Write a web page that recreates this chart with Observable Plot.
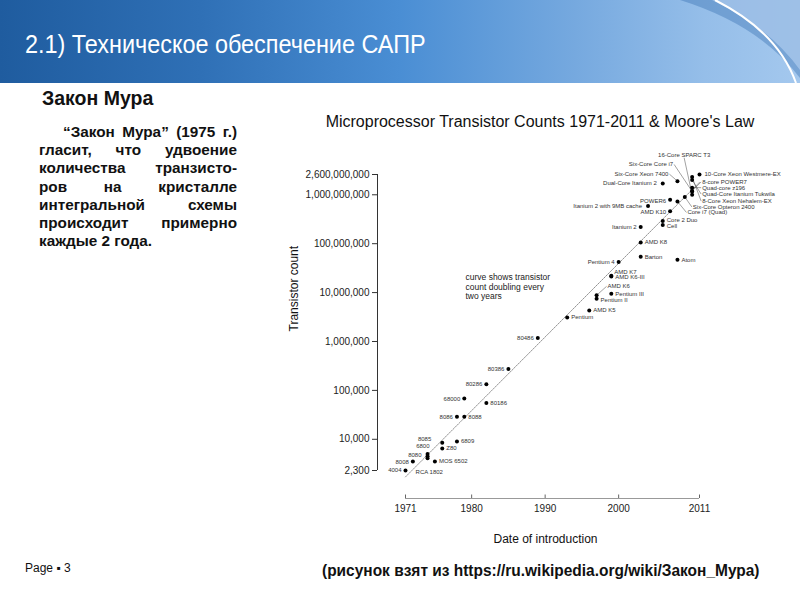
<!DOCTYPE html>
<html><head><meta charset="utf-8">
<script src="https://cdn.jsdelivr.net/npm/d3@7"></script>
<script src="https://cdn.jsdelivr.net/npm/@observablehq/plot@0.6"></script>
<style>
body{margin:0;width:800px;height:600px;position:relative;overflow:hidden;background:#fff;font-family:"Liberation Sans",Arial,sans-serif;}
#header{position:absolute;left:0;top:0;width:800px;height:83px;background:linear-gradient(to right,#1f5c9f 0%,#2f70b6 25%,#4a8ed4 50%,#76a9df 72%,#95bee9 88%,#a4c8ee 100%);}
#header svg{position:absolute;left:0;top:0;}
#htitle{position:absolute;left:25px;top:29px;color:#fff;font-size:26px;white-space:nowrap;transform:scaleX(0.9);transform-origin:0 0;}
#sub{position:absolute;left:42px;top:87px;font-weight:bold;font-size:19.5px;color:#111;}
#para{position:absolute;left:39px;top:123px;width:198px;font-weight:bold;font-size:15.3px;line-height:18.2px;color:#111;}
#para div{text-align:justify;text-align-last:justify;white-space:nowrap;}
#para div.last{text-align-last:left;}
#ctitle{position:absolute;left:280px;width:520px;top:113px;text-align:center;font-size:16px;color:#111;}
#chart{position:absolute;left:280px;top:140px;}
#page{position:absolute;left:25px;top:561px;font-size:12px;color:#111;}
#src{position:absolute;left:322px;top:561px;font-weight:bold;font-size:17px;color:#111;white-space:nowrap;transform:scaleX(0.91);transform-origin:0 0;}
</style></head><body>
<div id="header">
<svg width="800" height="83">
<path d="M680,0 Q760,25 800,78 L800,0 Z" fill="rgba(40,100,170,0.35)"/>
<path d="M712,0 Q770,28 800,70 L800,0 Z" fill="rgba(190,215,245,0.55)"/>
<path d="M715,0 Q778,32 796,83" fill="none" stroke="#fff" stroke-width="2"/>
</svg>
<div id="htitle">2.1) Техническое обеспечение САПР</div>
</div>
<div id="sub">Закон Мура</div>
<div id="para">
<div style="text-indent:24px">“Закон Мура” (1975 г.)</div>
<div>гласит, что удвоение</div>
<div>количества транзисто-</div>
<div>ров на кристалле</div>
<div>интегральной схемы</div>
<div>происходит примерно</div>
<div class="last">каждые 2 года.</div>
</div>
<div id="ctitle">Microprocessor Transistor Counts 1971-2011 &amp; Moore's Law</div>
<div id="chart"></div>
<div id="page">Page ▪ 3</div>
<div id="src">(рисунок взят из https://ru.wikipedia.org/wiki/Закон_Мура)</div>
<script>
const chipNames = ["4004","8008","8080","6800","RCA 1802","MOS 6502","8085","Z80","6809","8086","8088","68000","80186","80286","80386","80486","Pentium","AMD K5","Pentium II","AMD K6","Pentium III","AMD K6-III","AMD K7","Pentium 4","Barton","Atom","AMD K8","Itanium 2","Cell","Core 2 Duo","Itanium 2 with 9MB cache","AMD K10","POWER6","Core i7 (Quad)","Six-Core Opteron 2400","Dual-Core Itanium 2","Six-Core Xeon 7400","Six-Core Core i7","8-core POWER7","Quad-core z196","Quad-Core Itanium Tukwila","8-Core Xeon Nehalem-EX","10-Core Xeon Westmere-EX","16-Core SPARC T3"];
const chipYears = [1971,1972,1974,1974,1974,1975,1976,1976,1978,1978,1979,1979,1982,1982,1985,1989,1993,1996,1997,1997,1999,1999,1999,2000,2003,2008,2003,2003,2006,2006,2004,2007,2007,2008,2009,2006,2008,2010,2010,2010,2010,2010,2011,2010];
const chipCounts = [2300,3500,4500,4100,5000,3510,8500,6500,9000,29000,29000,68000,55000,134000,275000,1180000,3100000,4300000,7500000,8800000,9500000,21300000,22000000,42000000,54300000,47000000,105900000,220000000,241000000,291000000,592000000,463000000,789000000,731000000,904000000,1700000000,1900000000,1170000000,1200000000,1400000000,2000000000,2300000000,2600000000,1000000000];
const yTickValues = [2300,10000,100000,1000000,10000000,100000000,1000000000,2600000000];
const xTickValues = [1971,1980,1990,2000,2011];
const mooreYears = [1971,2011];
const mooreCounts = [1700,1800000000];

// label placement: [dx px, dy px, anchor, leader]
const labelLayout = {
  "4004":[-4,0,"end"],"8008":[-4,0,"end"],"8080":[-6,-1,"end"],"6800":[2,-12,"end"],
  "RCA 1802":[-12,18,"start"],"MOS 6502":[4,0,"start"],"8085":[-11,-4,"end"],"Z80":[4,0,"start"],
  "6809":[4,0,"start"],"8086":[-4,0,"end"],"8088":[4,0,"start"],"68000":[-4,0,"end"],
  "80186":[4,0,"start"],"80286":[-4,0,"end"],"80386":[-4,0,"end"],"80486":[-4,0,"end"],
  "Pentium":[4,0,"start"],"AMD K5":[4,0,"start"],"Pentium II":[4,1,"start"],"AMD K6":[11,-9,"start",1],
  "Pentium III":[4,0,"start"],"AMD K6-III":[4,1,"start"],"AMD K7":[3,-4,"start"],"Pentium 4":[-4,0,"end"],
  "Barton":[4,0,"start"],"Atom":[4,0,"start"],"AMD K8":[4,0,"start"],"Itanium 2":[-4,0,"end"],
  "Cell":[4,1,"start"],"Core 2 Duo":[4,-1,"start"],"Itanium 2 with 9MB cache":[-6,0,"end"],
  "AMD K10":[-4,1,"end"],"POWER6":[-4,1,"end"],"Core i7 (Quad)":[10,11,"start",1],
  "Six-Core Opteron 2400":[8,10,"start",1],"Dual-Core Itanium 2":[-6,0,"end"],
  "Six-Core Xeon 7400":[-9,-7,"end",1],"Six-Core Core i7":[-19,-27,"end",1],
  "8-core POWER7":[10,-9,"start",1],"Quad-core z196":[10,0,"start",1],
  "Quad-Core Itanium Tukwila":[10,14,"start",1],"8-Core Xeon Nehalem-EX":[10,24,"start",1],
  "10-Core Xeon Westmere-EX":[5,0,"start"],"16-Core SPARC T3":[-8,-40,"middle",1]
};

const W = 500, H = 410, mL = 125, mR = 81, mT = 34, mB = 80;
const xDom = [xTickValues[0], xTickValues[xTickValues.length-1]];
const yLo = yTickValues[0], yHi = yTickValues[yTickValues.length-1];
const yDom = [yLo, yHi];
const pxYear = (W - mL - mR) / (xDom[1] - xDom[0]);
const pxDec = (H - mT - mB) / Math.log10(yDom[1] / yDom[0]);
const shiftX = (x, dx) => x + dx / pxYear;
const shiftY = (y, dy) => y * Math.pow(10, -dy / pxDec);

const chips = chipNames.map((name, i) => {
  const [dx, dy, anchor, leader] = labelLayout[name];
  const year = chipYears[i], count = chipCounts[i];
  const endDx = anchor === "end" ? dx + 1 : anchor === "start" ? dx - 1 : dx;
  const endDy = anchor === "middle" ? dy + 3 : dy;
  return {name, year, count, anchor, leader: !!leader,
    lx: shiftX(year, dx), ly: shiftY(count, dy),
    ex: shiftX(year, endDx), ey: shiftY(count, endDy)};
});
const moore = mooreYears.map((y, i) => ({year: y, count: mooreCounts[i]}));

const axisOffset = 28;
const labelStyle = {fontSize: 6, fill: "#333"};
const fmt = d3.format(",");
const chart = Plot.plot({
  width: W, height: H, marginLeft: mL, marginRight: mR, marginTop: mT, marginBottom: mB,
  x: {domain: xDom, axis: null},
  y: {type: "log", domain: yDom, axis: null},
  style: {fontFamily: "'Liberation Sans', Arial, sans-serif", background: "transparent", overflow: "visible", color: "#222"},
  marks: [
    Plot.ruleX([xDom[0]], {y1: yLo, y2: yHi, dx: -axisOffset, stroke: "#333"}),
    Plot.ruleY(yTickValues, {y: d => d, x1: xDom[0], x2: shiftX(xDom[0], -5), dx: -axisOffset, stroke: "#333"}),
    Plot.text(yTickValues, {y: d => d, x: xDom[0], text: d => fmt(d), textAnchor: "end", dx: -axisOffset - 8, fontSize: 10, fill: "#222"}),
    Plot.ruleY([yLo], {x1: xDom[0], x2: xDom[1], dy: axisOffset, stroke: "#999"}),
    Plot.ruleX(xTickValues, {x: d => d, y1: yLo, y2: shiftY(yLo, -3.5), dy: axisOffset, stroke: "#666"}),
    Plot.axisX(xTickValues, {anchor: "bottom", tickFormat: d => String(d), tickSize: 0, tickPadding: 6, dy: axisOffset, fontSize: 10, label: null}),
    Plot.text(["Transistor count"], {frameAnchor: "left", dx: -111, dy: 9, rotate: -90, fontSize: 12, fill: "#111"}),
    Plot.text(["Date of introduction"], {frameAnchor: "bottom", lineAnchor: "middle", dx: -7, dy: 69, fontSize: 12, fill: "#111"}),
    Plot.text(["curve shows transistor\ncount doubling every\ntwo years"], {frameAnchor: "top-left", textAnchor: "start", lineAnchor: "top", dx: 60, dy: 99, fontSize: 8.5, lineHeight: 1.12, fill: "#222"}),
    Plot.line(moore, {x: "year", y: "count", stroke: "#777", strokeWidth: 0.8, strokeDasharray: "1.5,1.2"}),
    Plot.link(chips.filter(d => d.leader), {x1: "year", y1: "count", x2: "ex", y2: "ey", stroke: "#444", strokeWidth: 0.5}),
    Plot.dot(chips, {x: "year", y: "count", r: 2, fill: "#000"}),
    Plot.text(chips.filter(d => d.anchor === "start"), {x: "lx", y: "ly", text: "name", textAnchor: "start", ...labelStyle}),
    Plot.text(chips.filter(d => d.anchor === "end"), {x: "lx", y: "ly", text: "name", textAnchor: "end", ...labelStyle}),
    Plot.text(chips.filter(d => d.anchor === "middle"), {x: "lx", y: "ly", text: "name", textAnchor: "middle", ...labelStyle})
  ]
});
document.getElementById("chart").appendChild(chart);
</script>
</body></html>
